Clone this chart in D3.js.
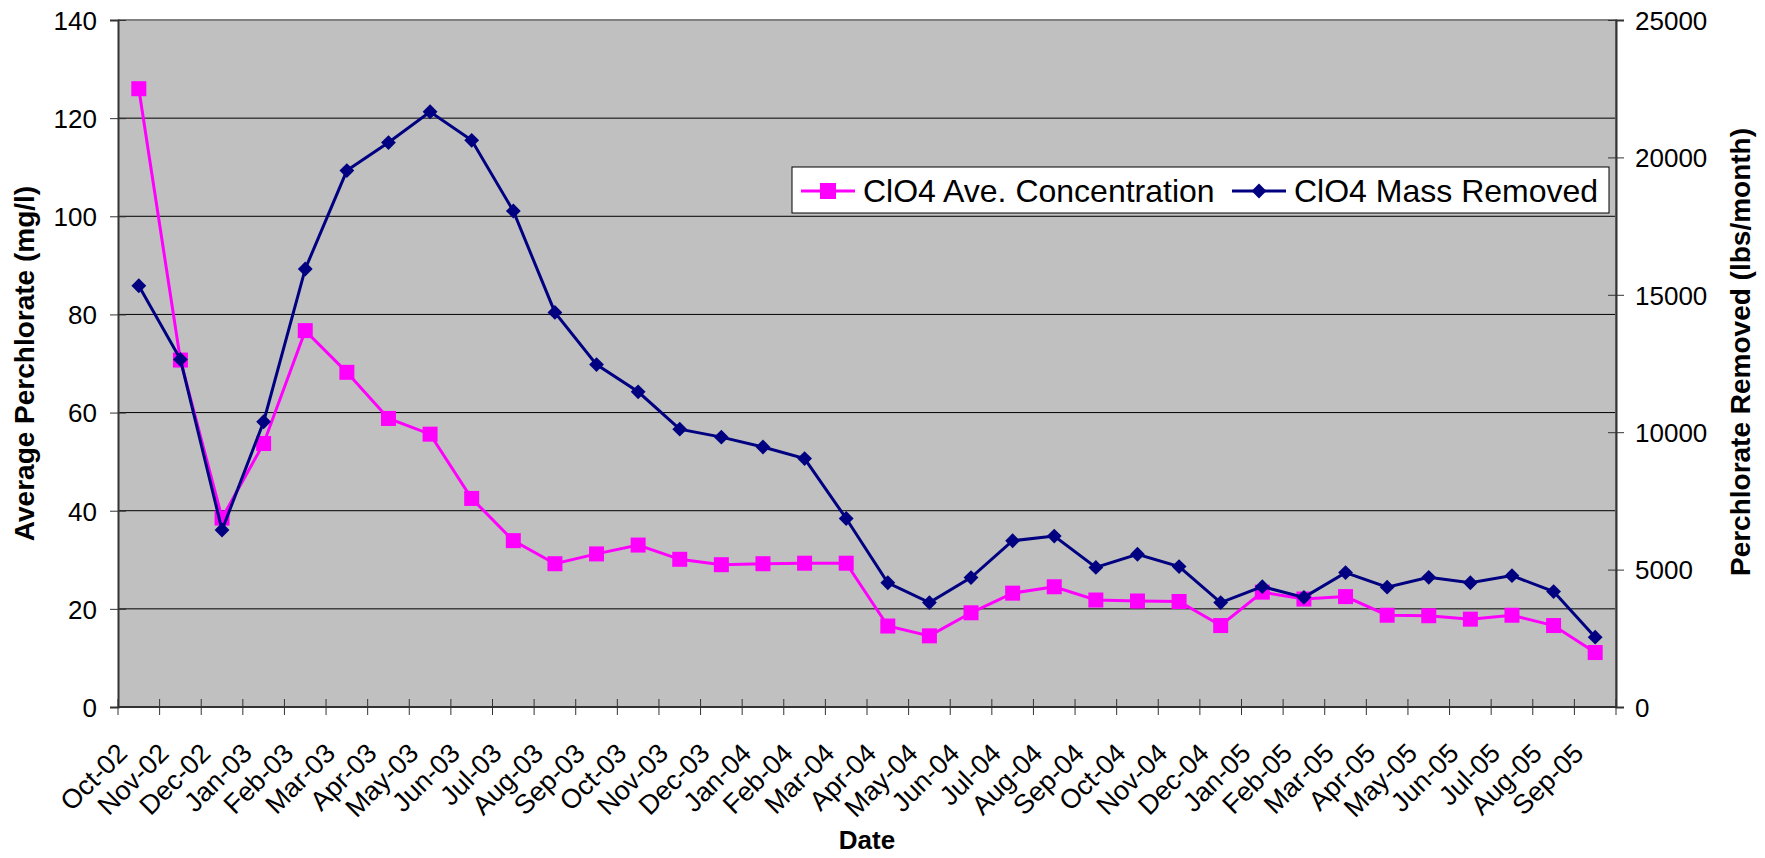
<!DOCTYPE html>
<html>
<head>
<meta charset="utf-8">
<script src="https://cdn.jsdelivr.net/npm/d3@7"></script>
<style>
  body { margin: 0; background: #fff; }
  text { font-family: Arial, "Liberation Sans", sans-serif; fill: #000; }
</style>
</head>
<body>
<svg width="1765" height="858"></svg>
<script>
// categories (months)
var months = ["Oct-02","Nov-02","Dec-02","Jan-03","Feb-03","Mar-03","Apr-03","May-03","Jun-03",
  "Jul-03","Aug-03","Sep-03","Oct-03","Nov-03","Dec-03","Jan-04","Feb-04","Mar-04",
  "Apr-04","May-04","Jun-04","Jul-04","Aug-04","Sep-04","Oct-04","Nov-04","Dec-04",
  "Jan-05","Feb-05","Mar-05","Apr-05","May-05","Jun-05","Jul-05","Aug-05","Sep-05"];

// ClO4 average concentration (mg/l), left axis
var conc = [126, 70.7, 38.5, 53.7, 76.7, 68.2, 58.8, 55.6, 42.5,
  33.9, 29.2, 31.2, 33.0, 30.1, 29.0, 29.2, 29.3, 29.3,
  16.5, 14.5, 19.2, 23.2, 24.5, 21.8, 21.6, 21.5, 16.6,
  23.4, 22.0, 22.5, 18.7, 18.6, 17.9, 18.7, 16.6, 11.1];

// ClO4 mass removed (lbs/month), right axis
var mass = [15330, 12650, 6440, 10380, 15940, 19520, 20540, 21660, 20620,
  18050, 14360, 12460, 11470, 10110, 9820, 9460, 9040, 6860,
  4520, 3800, 4710, 6050, 6220, 5080, 5560, 5110, 3800,
  4380, 3990, 4890, 4360, 4720, 4520, 4780, 4200, 2540];

var leftTicks = [0, 20, 40, 60, 80, 100, 120, 140];
var rightTicks = [0, 5000, 10000, 15000, 20000, 25000];

var seriesNames = ["ClO4 Ave. Concentration", "ClO4 Mass Removed"];

var svg = d3.select("svg");
var plot = {left: 118, right: 1616, top: 20, bottom: 707};

var x = d3.scaleBand().domain(months).range([plot.left, plot.right]);
var xi = d3.scaleLinear().domain([0, months.length]).range([plot.left, plot.right]);
var yL = d3.scaleLinear().domain([0, 140]).range([plot.bottom, plot.top]);
var yR = d3.scaleLinear().domain([0, 25000]).range([plot.bottom, plot.top]);
function cx(m) { return x(m) + x.bandwidth() / 2; }

// plot background
svg.append("rect")
  .attr("x", plot.left).attr("y", plot.top)
  .attr("width", plot.right - plot.left).attr("height", plot.bottom - plot.top)
  .attr("fill", "#c0c0c0");

// gridlines
svg.append("g").selectAll("line")
  .data(leftTicks.slice(1, -1))
  .enter().append("line")
  .attr("x1", plot.left).attr("x2", plot.right)
  .attr("y1", function(d) { return yL(d); }).attr("y2", function(d) { return yL(d); })
  .attr("stroke", "#000").attr("stroke-width", 1);

// plot border (top/right)
svg.append("path")
  .attr("d", "M" + plot.left + "," + plot.top + "H" + plot.right + "V" + plot.bottom)
  .attr("fill", "none").attr("stroke", "#808080").attr("stroke-width", 2);

// left axis
var gL = svg.append("g").attr("transform", "translate(" + plot.left + ",0)")
  .call(d3.axisLeft(yL).tickValues(leftTicks).tickSizeOuter(0).tickSize(8).tickPadding(13));
gL.select(".domain").attr("stroke", "#333").attr("stroke-width", 2);
gL.selectAll(".tick line").attr("x2", 8).attr("x1", -8).attr("stroke", "#333");
gL.selectAll(".tick text").attr("font-size", 26).attr("font-family", null).attr("dy", "0.36em");

// right axis
var gR = svg.append("g").attr("transform", "translate(" + plot.right + ",0)")
  .call(d3.axisRight(yR).tickValues(rightTicks).tickFormat(d3.format("d"))
    .tickSizeOuter(0).tickSize(8).tickPadding(11));
gR.select(".domain").attr("stroke", "#333").attr("stroke-width", 2);
gR.selectAll(".tick line").attr("x1", -8).attr("x2", 8).attr("stroke", "#333");
gR.selectAll(".tick text").attr("font-size", 26).attr("font-family", null).attr("dy", "0.36em");

// bottom axis line and ticks at category boundaries
svg.append("line")
  .attr("x1", plot.left).attr("x2", plot.right)
  .attr("y1", plot.bottom).attr("y2", plot.bottom)
  .attr("stroke", "#333").attr("stroke-width", 2);
svg.append("g").selectAll("line")
  .data(d3.range(months.length + 1))
  .enter().append("line")
  .attr("x1", function(d) { return xi(d); }).attr("x2", function(d) { return xi(d); })
  .attr("y1", plot.bottom - 8).attr("y2", plot.bottom + 8)
  .attr("stroke", "#333").attr("stroke-width", 1);

// x labels, rotated
svg.append("g").selectAll("text")
  .data(months)
  .enter().append("text")
  .attr("text-anchor", "end")
  .attr("font-size", 27)
  .attr("transform", function(d) { return "translate(" + (cx(d) - 10) + "," + 755 + ") rotate(-45)"; })
  .text(function(d) { return d; });

// axis titles
svg.append("text")
  .attr("text-anchor", "middle").attr("font-weight", "bold").attr("font-size", 26)
  .attr("x", (plot.left + plot.right) / 2).attr("y", 849)
  .text("Date");
svg.append("text")
  .attr("text-anchor", "middle").attr("font-weight", "bold").attr("font-size", 28)
  .attr("transform", "translate(34," + (plot.top + plot.bottom) / 2 + ") rotate(-90)")
  .text("Average Perchlorate (mg/l)");
svg.append("text")
  .attr("text-anchor", "middle").attr("font-weight", "bold").attr("font-size", 28)
  .attr("transform", "translate(1750,352) rotate(-90)")
  .text("Perchlorate Removed (lbs/month)");

// concentration series
var concLine = d3.line()
  .x(function(d, i) { return cx(months[i]); })
  .y(function(d) { return yL(d); });
svg.append("path").datum(conc)
  .attr("d", concLine)
  .attr("fill", "none").attr("stroke", "#ff00ff").attr("stroke-width", 3);
svg.append("g").selectAll("rect")
  .data(conc)
  .enter().append("rect")
  .attr("x", function(d, i) { return cx(months[i]) - 7.5; })
  .attr("y", function(d) { return yL(d) - 7.5; })
  .attr("width", 15).attr("height", 15)
  .attr("fill", "#ff00ff");

// mass series
var massLine = d3.line()
  .x(function(d, i) { return cx(months[i]); })
  .y(function(d) { return yR(d); });
svg.append("path").datum(mass)
  .attr("d", massLine)
  .attr("fill", "none").attr("stroke", "#000080").attr("stroke-width", 3);
var diamond = d3.symbol().type(d3.symbolSquare).size(110);
svg.append("g").selectAll("path")
  .data(mass)
  .enter().append("path")
  .attr("d", diamond)
  .attr("transform", function(d, i) { return "translate(" + cx(months[i]) + "," + yR(d) + ") rotate(45)"; })
  .attr("fill", "#000080");

// legend
var lg = svg.append("g");
lg.append("rect")
  .attr("x", 792).attr("y", 167).attr("width", 817).attr("height", 46)
  .attr("fill", "#fff").attr("stroke", "#000").attr("stroke-width", 1);
lg.append("line").attr("x1", 801).attr("x2", 855).attr("y1", 191).attr("y2", 191)
  .attr("stroke", "#ff00ff").attr("stroke-width", 3);
lg.append("rect").attr("x", 820).attr("y", 183).attr("width", 16).attr("height", 16)
  .attr("fill", "#ff00ff");
lg.append("text").attr("x", 863).attr("y", 202).attr("font-size", 32).text(seriesNames[0]);
lg.append("line").attr("x1", 1232).attr("x2", 1286).attr("y1", 191).attr("y2", 191)
  .attr("stroke", "#000080").attr("stroke-width", 3);
lg.append("path").attr("d", diamond)
  .attr("transform", "translate(1259,191) rotate(45)")
  .attr("fill", "#000080");
lg.append("text").attr("x", 1294).attr("y", 202).attr("font-size", 32).text(seriesNames[1]);
</script>
</body>
</html>
